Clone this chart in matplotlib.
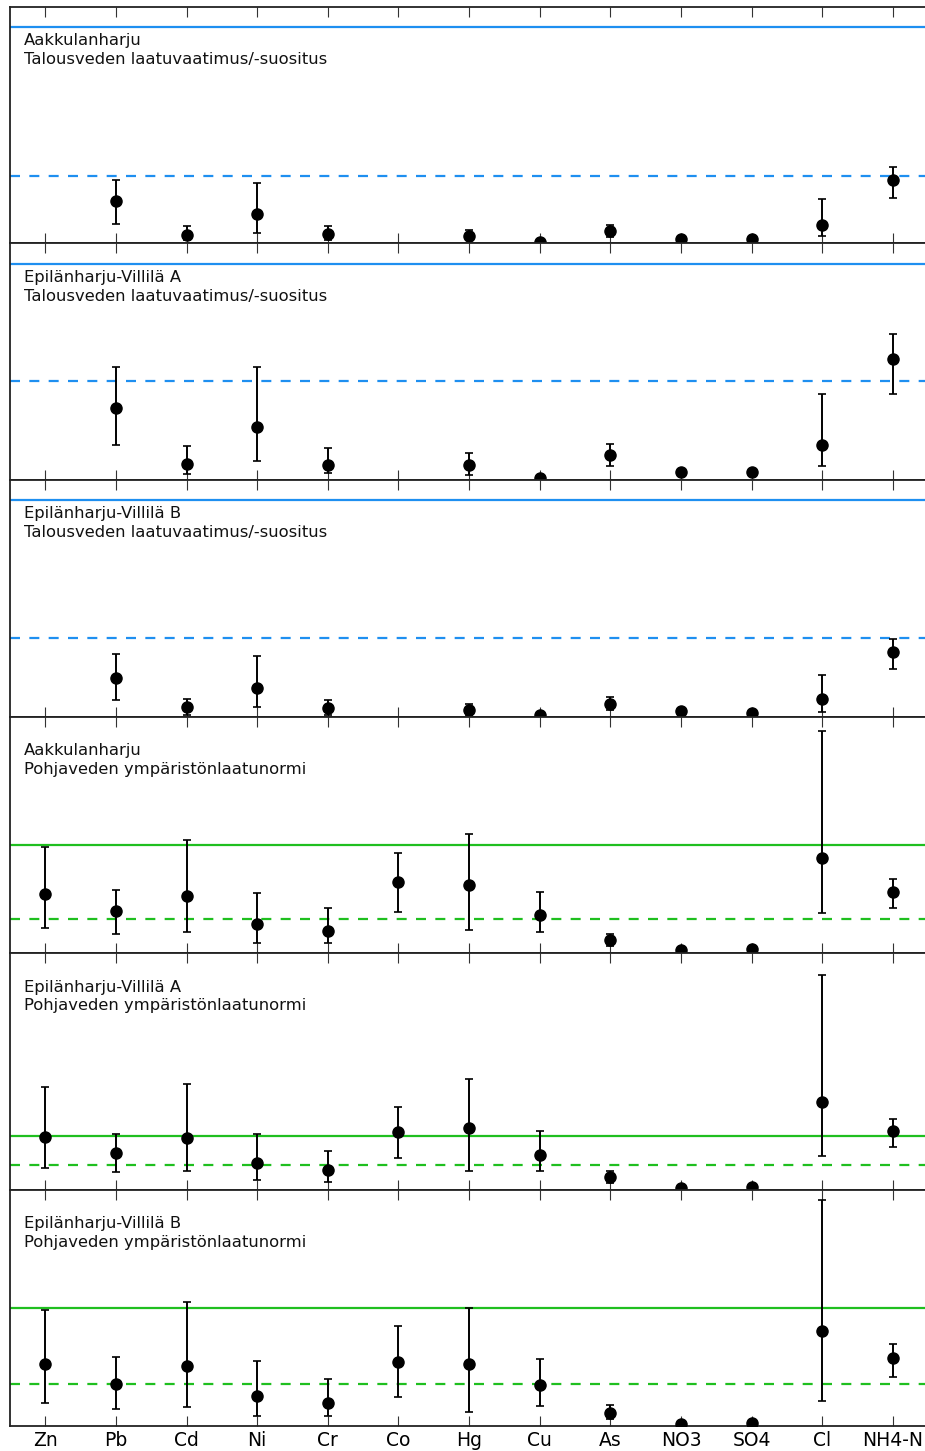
import numpy as np
import matplotlib
matplotlib.use('Agg')
import matplotlib.pyplot as plt

""" DATA """
nan = np.nan
components = ['Zn', 'Pb', 'Cd', 'Ni', 'Cr', 'Co', 'Hg', 'Cu', 'As', 'NO3', 'SO4', 'Cl', 'NH4-N']

# values scaled so that the limit (solid line) is 1.0
aak_tv = [nan, 0.194, 0.040, 0.136, 0.042, nan, 0.036, 0.009, 0.059, 0.020, 0.020, 0.085, 0.292]
aak_tv_lo = [nan, 0.091, 0.017, 0.048, 0.017, nan, 0.014, 0.009, 0.032, 0.020, 0.020, 0.036, 0.212]
aak_tv_hi = [nan, 0.293, 0.080, 0.278, 0.079, nan, 0.063, 0.009, 0.087, 0.020, 0.020, 0.205, 0.355]

epa_tv = [nan, 0.332, 0.076, 0.245, 0.069, nan, 0.069, 0.008, 0.114, 0.037, 0.037, 0.164, 0.559]
epa_tv_lo = [nan, 0.164, 0.028, 0.088, 0.031, nan, 0.022, 0.008, 0.066, 0.037, 0.037, 0.066, 0.400]
epa_tv_hi = [nan, 0.525, 0.157, 0.525, 0.147, nan, 0.125, 0.008, 0.168, 0.037, 0.037, 0.400, 0.677]

epb_tv = [nan, 0.179, 0.042, 0.130, 0.037, nan, 0.032, 0.009, 0.060, 0.025, 0.015, 0.082, 0.300]
epb_tv_lo = [nan, 0.077, 0.009, 0.042, 0.009, nan, 0.009, 0.009, 0.032, 0.025, 0.015, 0.022, 0.218]
epb_tv_hi = [nan, 0.290, 0.080, 0.278, 0.076, nan, 0.060, 0.009, 0.088, 0.025, 0.015, 0.191, 0.360]

aak_pv = [0.546, 0.394, 0.533, 0.271, 0.206, 0.657, 0.632, 0.357, 0.120, 0.024, 0.037, 0.885, 0.568]
aak_pv_lo = [0.228, 0.181, 0.194, 0.095, 0.095, 0.382, 0.216, 0.194, 0.065, 0.024, 0.037, 0.370, 0.413]
aak_pv_hi = [0.987, 0.589, 1.049, 0.558, 0.413, 0.929, 1.105, 0.570, 0.172, 0.024, 0.037, 2.056, 0.688]

epa_pv = [0.987, 0.679, 0.962, 0.496, 0.364, 1.075, 1.162, 0.653, 0.232, 0.030, 0.057, 1.653, 1.100]
epa_pv_lo = [0.402, 0.321, 0.345, 0.170, 0.138, 0.585, 0.345, 0.345, 0.132, 0.030, 0.057, 0.634, 0.792]
epa_pv_hi = [1.925, 1.049, 1.992, 1.049, 0.717, 1.553, 2.087, 1.100, 0.340, 0.030, 0.057, 4.043, 1.321]

epb_pv = [0.523, 0.356, 0.514, 0.252, 0.192, 0.545, 0.525, 0.345, 0.113, 0.014, 0.025, 0.805, 0.574]
epb_pv_lo = [0.192, 0.144, 0.164, 0.085, 0.085, 0.246, 0.116, 0.172, 0.057, 0.014, 0.025, 0.215, 0.413]
epb_pv_hi = [0.989, 0.585, 1.057, 0.553, 0.396, 0.847, 1.000, 0.565, 0.175, 0.014, 0.025, 1.915, 0.697]

sites = ['Aakkulanharju', 'Epilänharju-Villilä A', 'Epilänharju-Villilä B'] * 2
norms = ['Talousveden laatuvaatimus/-suositus'] * 3 + ['Pohjaveden ympäristönlaatunormi'] * 3
limits = [1.0] * 6
dashed_levels = [0.310, 0.457, 0.362, 0.311, 0.464, 0.359]
ymax = [1.093, 1.097, 1.093, 2.194, 4.45, 2.008]

""" PLOT """
panels = [
    (aak_tv, aak_tv_lo, aak_tv_hi),
    (epa_tv, epa_tv_lo, epa_tv_hi),
    (epb_tv, epb_tv_lo, epb_tv_hi),
    (aak_pv, aak_pv_lo, aak_pv_hi),
    (epa_pv, epa_pv_lo, epa_pv_hi),
    (epb_pv, epb_pv_lo, epb_pv_hi),
]
line_colors = ['#1e8ff0'] * 3 + ['#1fbf1f'] * 3

fig = plt.figure(figsize=(9.25, 14.51), dpi=100)
axes = fig.subplots(6, 1, sharex=True)
fig.subplots_adjust(left=0.0108, right=1.0035, top=0.9952, bottom=0.0172, hspace=0)

x = np.arange(len(components))
for i, ax in enumerate(axes):
    vals, lo, hi = [np.array(a, dtype=float) for a in panels[i]]
    ax.axhline(limits[i], color=line_colors[i], lw=1.6)
    ax.axhline(dashed_levels[i], color=line_colors[i], lw=1.6, ls=(0, (4.5, 4.2)))
    ax.errorbar(x, vals, yerr=[vals - lo, hi - vals], fmt='o', color='black',
                ms=8, elinewidth=1.4, capsize=3, capthick=1.2, zorder=3)
    ax.set_ylim(0, ymax[i])
    ax.set_xlim(-0.5, len(components) - 0.5)
    ax.set_yticks([])
    ax.tick_params(axis='x', direction='in', top=True, bottom=True, length=7,
                   width=0.8, color='#333333', labelsize=13.5)
    for sp in ax.spines.values():
        sp.set_linewidth(1.3)
        sp.set_color('#222222')
    ax.text(0.015, 0.888, sites[i] + '\n' + norms[i], transform=ax.transAxes,
            ha='left', va='top', fontsize=11.8, color='#111111', linespacing=1.33)

axes[-1].set_xticks(x)
axes[-1].set_xticklabels(components)

fig.savefig('out.png', dpi=100)
